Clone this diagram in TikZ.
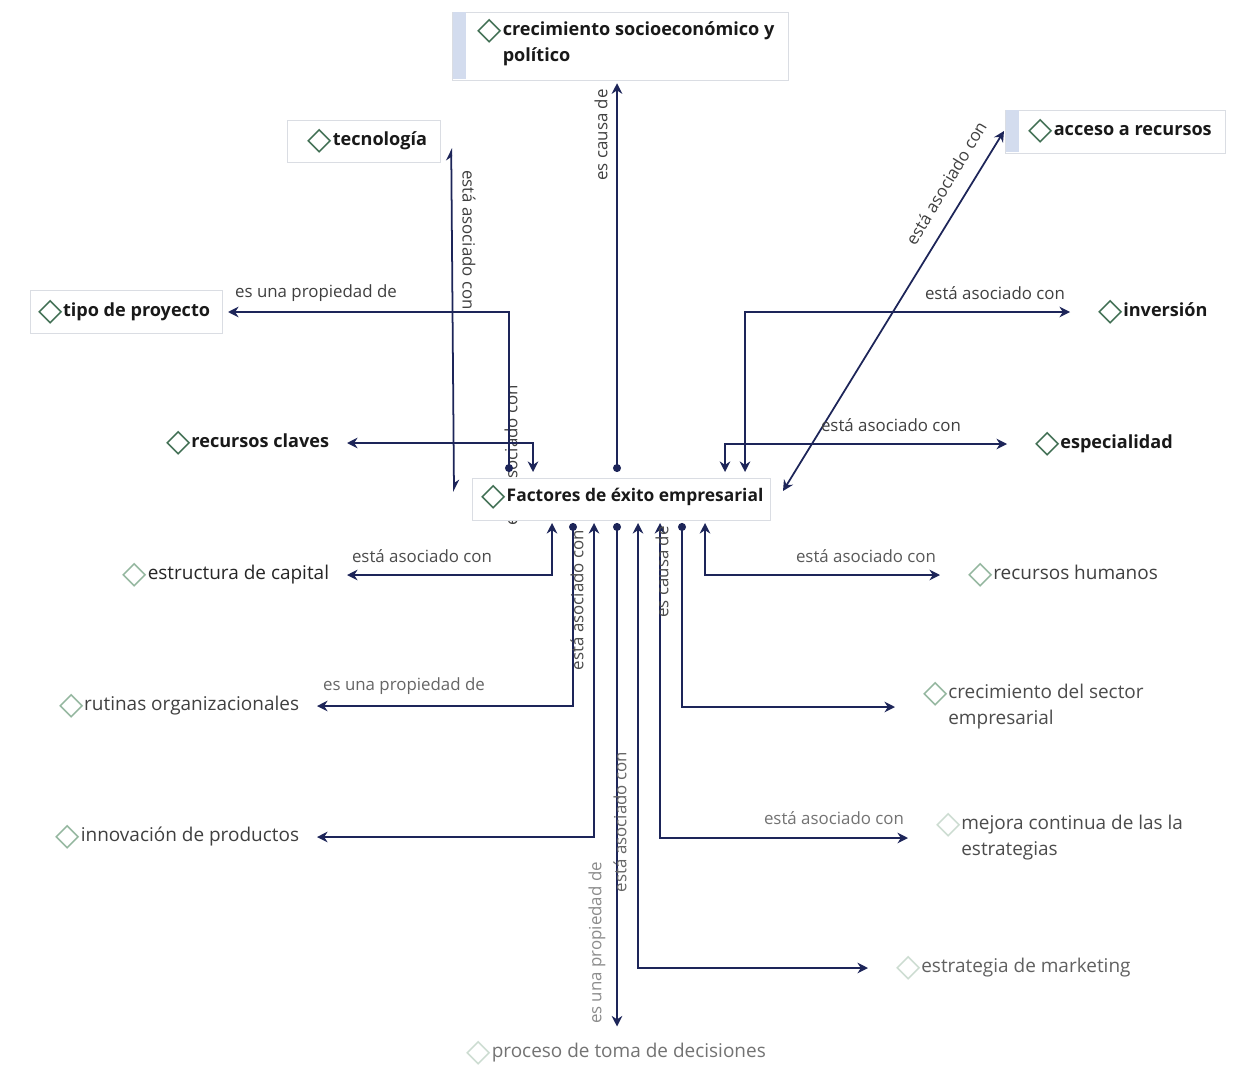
\documentclass[tikz,border=0pt]{standalone}
\usepackage{fontspec}
\setmainfont{Open Sans}
\newfontfamily\symfont{DejaVu Sans}
\usetikzlibrary{arrows.meta}

\definecolor{linknavy}{HTML}{1D2559}
\definecolor{icogreen}{HTML}{3F6E52}
\definecolor{icolight}{HTML}{93B69E}
\definecolor{icopale}{HTML}{CCDCD1}
\definecolor{boxgray}{HTML}{DADDE3}
\definecolor{stripblue}{HTML}{D3DCEE}

\newcommand{\ico}[1][icogreen]{\raisebox{-2pt}{\fontsize{18}{18}\symfont\color{#1}◇}\hspace{0.3pt}}

\tikzset{
  concept/.style={inner xsep=10pt, inner ysep=8pt, align=left, text=black!90},
  strong/.style={font=\fontsize{10.3}{14.5}\selectfont\bfseries},
  plain/.style={font=\fontsize{10.8}{14.5}\selectfont},
  lab/.style={font=\fontsize{9.6}{11}\selectfont, text=black!75, inner sep=1pt},
  link/.style={draw=linknavy, line width=1pt},
  dotlink/.style={link, {Circle[length=4.5pt]}-{Stealth[length=6pt,width=6pt]}},
  duallink/.style={link, {Stealth[length=6pt,width=6pt]}-{Stealth[length=6pt,width=6pt]}},
  harp/.style={link, {Stealth[harpoon,length=6pt,width=6pt]}-{Stealth[harpoon,length=6pt,width=6pt]}},
  boxline/.style={draw=boxgray, line width=0.5pt},
}

\begin{document}
\begin{tikzpicture}[x=0.02cm, y=-0.02cm]
    \useasboundingbox[fill=white] (0,0) rectangle (1236,1081);

    % recuadros
    \draw[boxline] (452,12) rectangle (788,80);
    \fill[stripblue] (452.5,12.5) rectangle (466,79.5);
    \draw[boxline] (287,120) rectangle (440,162);
    \draw[boxline] (1005,110) rectangle (1225,153);
    \fill[stripblue] (1005.5,110.5) rectangle (1019,152.5);
    \draw[boxline] (30,290) rectangle (222,333);

    % etiqueta medio tapada
    \node[lab, rotate=90] (lbclaves) at (511,455) {está asociado con};

    % nodo central
    \filldraw[boxline, fill=white] (472,478) rectangle (770,520);
    \node[concept, strong, font=\fontsize{9.9}{14.5}\selectfont\bfseries, inner xsep=2pt, anchor=west] (fac) at (478,497) {\ico Factores de éxito empresarial};

    % conceptos de arriba
    \node[concept, strong, anchor=west] (socio) at (460,44) {\ico crecimiento socioeconómico y\\\phantom{\ico}político};
    \node[concept, strong, anchor=west] (tecno) at (290,141) {\ico tecnología};
    \node[concept, strong, inner xsep=14pt, anchor=west] (acceso) at (1004,131) {\ico acceso a recursos};
    \node[concept, strong, anchor=east] (tipo) at (228,312) {\ico tipo de proyecto};
    \node[concept, strong, anchor=east] (claves) at (347,443) {\ico recursos claves};
    \node[concept, strong, inner xsep=16pt, anchor=west] (inver) at (1070,312) {\ico inversión};
    \node[concept, strong, inner xsep=16pt, anchor=west] (espec) at (1007,444) {\ico especialidad};

    % conceptos de abajo
    \node[concept, plain, anchor=east, text=black!85] (estruc) at (347,575) {\ico[icolight]estructura de capital};
    \node[concept, plain, anchor=east, text=black!75] (rutin) at (317,706) {\ico[icolight]rutinas organizacionales};
    \node[concept, plain, anchor=east, text=black!75] (innov) at (317,837) {\ico[icolight]innovación de productos};
    \node[concept, plain, inner xsep=16pt, anchor=west, text=black!75] (rrhh) at (940,575) {\ico[icolight]recursos humanos};
    \node[concept, plain, inner xsep=16pt, anchor=west, text=black!70] (sector) at (895,707) {\ico[icolight]crecimiento del sector\\\phantom{\ico}empresarial};
    \node[concept, plain, inner xsep=16pt, anchor=west, text=black!70] (mejora) at (908,838) {\ico[icopale]mejora continua de las la\\\phantom{\ico}estrategias};
    \node[concept, plain, inner xsep=16pt, anchor=west, text=black!62] (market) at (868,968) {\ico[icopale]estrategia de marketing};
    \node[concept, plain, anchor=west, text=black!55] (proceso) at (449,1053) {\ico[icopale]proceso de toma de decisiones};

    % puntos de enganche en el nodo central
    \coordinate (ft1) at (509,472);
    \coordinate (ft2) at (533,472);
    \coordinate (ft3) at (617,472);
    \coordinate (ft4) at (725,472);
    \coordinate (ft5) at (745,472);
    \coordinate (fd) at (783,491);
    \coordinate (ftec) at (454,492);
    \coordinate (fb1) at (552,523);
    \coordinate (fb2) at (573,523);
    \coordinate (fb3) at (594,523);
    \coordinate (fb4) at (617,523);
    \coordinate (fb5) at (638,523);
    \coordinate (fb6) at (660,523);
    \coordinate (fb7) at (682,523);
    \coordinate (fb8) at (705,523);

    % relaciones
    \draw[dotlink] (ft1) |- (tipo);
    \draw[duallink] (ft2) |- (claves);
    \draw[dotlink] (ft3) -- (ft3 |- socio.south);
    \draw[duallink] (ft4) |- (espec);
    \draw[duallink] (ft5) |- (inver);
    \draw[duallink] (fd) -- (acceso.west);
    \draw[harp] (ftec) -- ([xshift=3.5pt,yshift=-4pt]tecno.east);
    \draw[duallink] (fb1) |- (estruc);
    \draw[dotlink] (fb2) |- (rutin);
    \draw[duallink] (fb3) |- (innov);
    \draw[dotlink] (fb4) -- (fb4 |- proceso.north);
    \draw[duallink] (fb5) |- (market);
    \draw[duallink] (fb6) |- (mejora);
    \draw[dotlink] (fb7) |- (sector);
    \draw[duallink] (fb8) |- (rrhh);

    % etiquetas
    \node[lab] (lbtipo) at (316,293) {es una propiedad de};
    \node[lab, rotate=-90] (lbtecno) at (469,240) {está asociado con};
    \node[lab, rotate=90] (lbsocio) at (601,135) {es causa de};
    \node[lab, rotate=59] (lbacceso) at (946,183) {está asociado con};
    \node[lab] (lbinver) at (995,293) {está asociado con};
    \node[lab] (lbespec) at (891,425) {está asociado con};
    \node[lab, text=black!70] (lbestruc) at (422,556) {está asociado con};
    \node[lab, rotate=90, text=black!70] (lbinnov) at (577,600) {está asociado con};
    \node[lab, text=black!60] (lbrutin) at (404,686) {es una propiedad de};
    \node[lab, rotate=90, text=black!70] (lbsector) at (662,572) {es causa de};
    \node[lab, text=black!65] (lbrrhh) at (866,556) {está asociado con};
    \node[lab, rotate=90, text=black!60] (lbmarket) at (620,822) {está asociado con};
    \node[lab, rotate=90, text=black!45] (lbproceso) at (597,943) {es una propiedad de};
    \node[lab, text=black!55] (lbmejora) at (834,818) {está asociado con};
\end{tikzpicture}
\end{document}
